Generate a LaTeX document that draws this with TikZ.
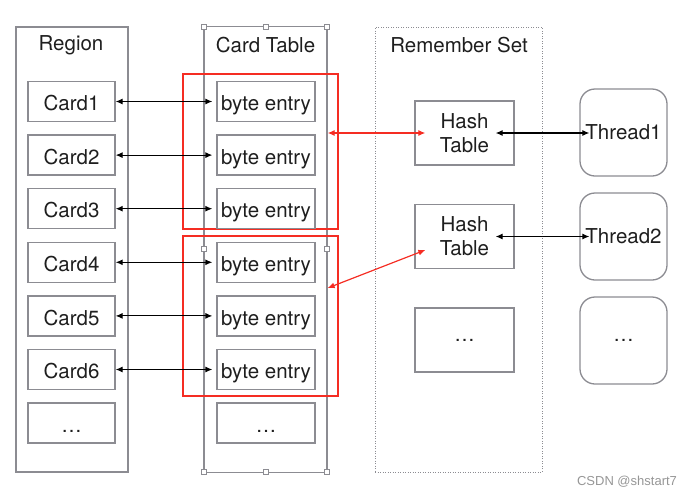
\documentclass[tikz,border=0pt]{standalone}
\usepackage{fontspec}
\setmainfont{TeX Gyre Heros}
\newfontfamily\wmfont{Liberation Sans}
\usetikzlibrary{arrows.meta,calc}
\definecolor{boxgray}{RGB}{140,140,146}
\definecolor{txt}{RGB}{30,30,30}
\definecolor{redl}{RGB}{245,45,35}
\definecolor{wmgray}{RGB}{150,150,150}
\tikzset{
  lbl/.style={font=\fontsize{20.5}{24}\selectfont, text=txt, inner sep=0pt},
  container/.style={draw=boxgray, line width=1.3pt, inner sep=0pt},
  cell/.style={draw=boxgray, line width=1.3pt, inner sep=0pt, minimum height=40pt,
     font=\fontsize{20.5}{24}\selectfont, text=txt},
  cardbox/.style={cell, minimum width=87pt, text height=18.4pt, text depth=0pt},
  bytebox/.style={cell, minimum width=98pt, text height=18.4pt, text depth=0pt},
  hashbox/.style={cell, minimum width=99pt, minimum height=64pt, align=center},
  threadbox/.style={cell, minimum width=87pt, minimum height=87pt, rounded corners=15pt},
  redbox/.style={draw=redl, line width=1.2pt, inner sep=0pt, minimum width=155pt},
  handle/.style={draw=boxgray, fill=white, line width=0.6pt, minimum size=5pt, inner sep=0pt},
  blk/.style={draw=black, line width=1.1pt, {Latex[length=7pt,width=6pt]}-{Latex[length=7pt,width=6pt]}},
  redarr/.style={draw=redl, line width=1.2pt, {Latex[length=7pt,width=6pt]}-{Latex[length=7pt,width=6pt]}},
}
\begin{document}
\begin{tikzpicture}[x=1pt,y=-1pt]
\useasboundingbox (0,0) rectangle (693,496);
% containers
\node[container, minimum width=112pt, minimum height=445pt] (region) at (72,249.5) {};
\node[container, minimum width=123pt, minimum height=445.5pt] (ctable) at (265.5,249.5) {};
\node[draw=boxgray, line width=0.8pt, dash pattern=on 1pt off 1.5pt, inner sep=0pt,
      minimum width=167pt, minimum height=445pt] (rset) at (458.5,249.5) {};
\node[lbl] (regionlbl) at (71,45) {Region};
\node[lbl] (ctlbl) at (265.5,45) {Card Table};
\node[lbl] (rslbl) at (459,45) {Remember Set};
% red groups
\node[redbox, minimum height=155pt] (rg1) at (260.5,151.5) {};
\node[redbox, minimum height=160pt] (rg2) at (260.5,316) {};
% cards and byte entries
\foreach \i/\y/\t in {1/101.5/Card1,2/155.1/Card2,3/208.7/Card3,4/262.3/Card4,5/315.9/Card5,6/369.5/Card6}{
  \node[cardbox] (c\i) at (71.5,\y) {\t};
  \node[bytebox] (b\i) at (266,\y) {byte entry};
  \draw[blk, shorten >=4pt] (c\i.east) -- (b\i.west);
}
\node[cardbox] (c7) at (71.5,423.1) {\ldots};
\node[bytebox] (b7) at (266,423.1) {\ldots};
% handles
\foreach \n/\p in {h1/{(204,26.5)},h2/{(265.5,26.5)},h3/{(327,26.5)},h4/{(204,249)},h5/{(327,249)},h6/{(204,472)},h7/{(265.5,472)},h8/{(327,472)}}{
  \node[handle] (\n) at \p {};
}
% hash tables
\node[hashbox] (ht1) at (464.5,133) {Hash\\Table};
\node[hashbox] (ht2) at (464.5,236.5) {Hash\\Table};
\node[hashbox] (ht3) at (464.5,340) {\ldots};
% threads
\node[threadbox] (t1) at (623.5,132.5) {Thread1};
\node[threadbox] (t2) at (623.5,236.5) {Thread2};
\node[threadbox] (t3) at (623.5,340.5) {\ldots};
% red arrows
\coordinate (ra1) at (ctable.east |- ht1.west);
\coordinate (ra1e) at ($(ht1.west)+(11,0)$);
\coordinate (ra2) at ($(ctable.east)+(0,38.5)$);
\coordinate (ra2e) at ($(ht2.west)+(11,13.5)$);
\draw[redarr] (ra1) -- (ra1e);
\draw[redarr] (ra2) -- (ra2e);
% hash-thread arrows
\coordinate (k1s) at ($(ht1.east)+(-19,0)$);
\coordinate (k1e) at ($(t1.west |- ht1.east)+(10,0)$);
\coordinate (k2s) at ($(ht2.east)+(-19,0)$);
\coordinate (k2e) at ($(t2.west |- ht2.east)+(10,0)$);
\draw[blk] (k1s) -- (k1e);
\draw[blk] (k2s) -- (k2e);
% watermark
\node[font=\wmfont\fontsize{13}{15}\selectfont, text=wmgray, inner sep=0pt] (wm) at (627,482) {CSDN @shstart7};
\end{tikzpicture}
\end{document}
